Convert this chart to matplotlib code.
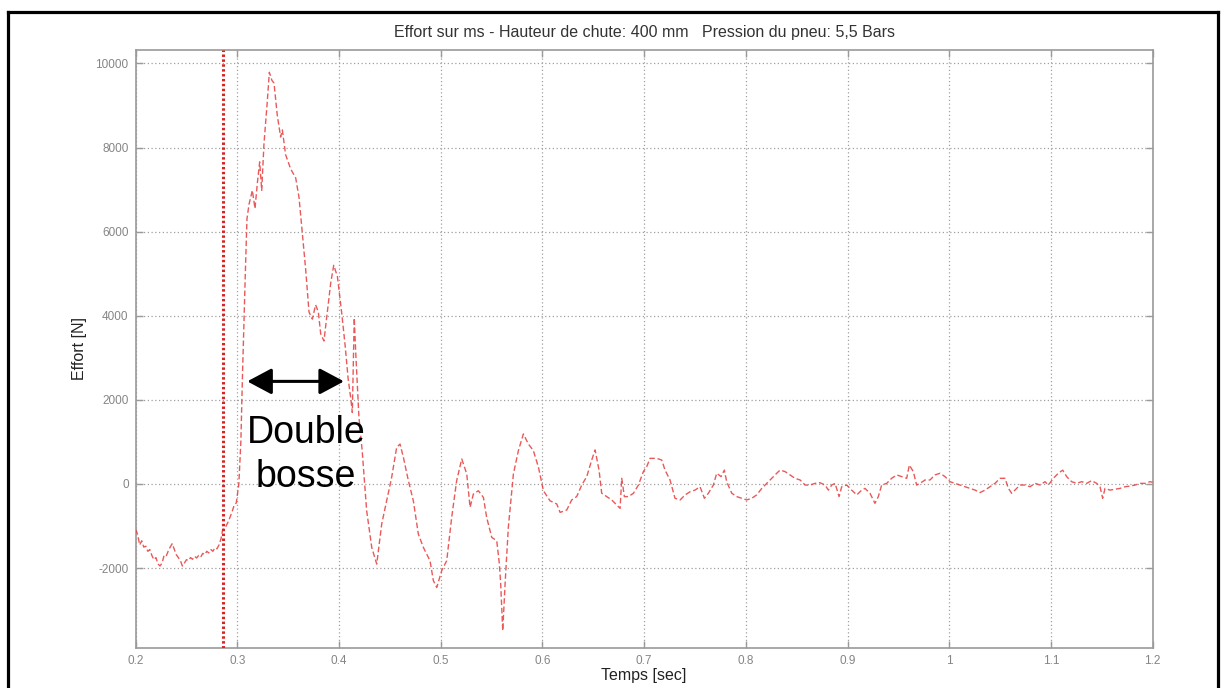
import matplotlib
matplotlib.use("Agg")
import matplotlib.pyplot as plt
from matplotlib.lines import Line2D

plt.rcParams['font.family'] = ['Liberation Sans', 'DejaVu Sans']

# ---- data ----
temps = [
    0.200, 0.202, 0.204, 0.206, 0.208, 0.210, 0.212, 0.214, 0.216, 0.218,
    0.220, 0.222, 0.224, 0.226, 0.228, 0.230, 0.232, 0.234, 0.236, 0.238,
    0.240, 0.242, 0.244, 0.246, 0.248, 0.250, 0.252, 0.254, 0.256, 0.258,
    0.260, 0.262, 0.264, 0.266, 0.268, 0.270, 0.272, 0.274, 0.276, 0.278,
    0.280, 0.282, 0.284, 0.2855, 0.287, 0.289, 0.291, 0.293, 0.295, 0.297,
    0.299, 0.3015, 0.3035, 0.3050, 0.3065, 0.3080, 0.3095, 0.3115, 0.3148, 0.3174,
    0.3197, 0.3220, 0.3240, 0.3262, 0.3295, 0.3315, 0.3340, 0.3361, 0.3393, 0.3426,
    0.3443, 0.3475, 0.3525, 0.3574, 0.3607, 0.3640, 0.3672, 0.3705, 0.3738, 0.3770,
    0.3797, 0.3820, 0.3852, 0.3885, 0.3918, 0.3948, 0.3984, 0.4025, 0.4060, 0.4090,
    0.4115, 0.4131, 0.4150, 0.4165, 0.4196, 0.4228, 0.4272, 0.4322, 0.4371, 0.4420,
    0.4469, 0.4518, 0.4567, 0.4600, 0.4633, 0.4682, 0.4731, 0.4780, 0.4830, 0.4895,
    0.4928, 0.4961, 0.5010, 0.5059, 0.5108, 0.5157, 0.5207, 0.5256, 0.5289, 0.5321,
    0.5370, 0.5420, 0.5452, 0.5502, 0.5551, 0.5577, 0.5590, 0.5610, 0.5633, 0.5665,
    0.5715, 0.5764, 0.5813, 0.5862, 0.5911, 0.5961, 0.6010, 0.6075, 0.6141, 0.6174,
    0.6239, 0.6288, 0.6337, 0.6387, 0.6436, 0.6485, 0.6518, 0.6534, 0.6557, 0.6583,
    0.6632, 0.6682, 0.6731, 0.6764, 0.6780, 0.6806, 0.6846, 0.6895, 0.6944, 0.6993,
    0.7026, 0.7059, 0.7124, 0.7173, 0.7206, 0.7255, 0.7304, 0.7354, 0.7403, 0.7452,
    0.7501, 0.7550, 0.7593, 0.7632, 0.7681, 0.7714, 0.7757, 0.7789, 0.7812, 0.7862,
    0.7911, 0.7960, 0.8009, 0.8058, 0.8107, 0.8157, 0.8206, 0.8255, 0.8304, 0.8337,
    0.8386, 0.8435, 0.8484, 0.8534, 0.8583, 0.8632, 0.8681, 0.8730, 0.8779, 0.8812,
    0.8845, 0.8878, 0.8917, 0.8943, 0.8992, 0.9041, 0.9091, 0.9140, 0.9172, 0.9221,
    0.9270, 0.9303, 0.9336, 0.9385, 0.9434, 0.9484, 0.9533, 0.9582, 0.9608, 0.9647,
    0.9680, 0.9713, 0.9762, 0.9811, 0.9860, 0.9910, 0.9959, 1.0008, 1.0057, 1.0106,
    1.0155, 1.0205, 1.0254, 1.0303, 1.0352, 1.0401, 1.0450, 1.0500, 1.0549, 1.0582,
    1.0614, 1.0647, 1.0696, 1.0745, 1.0795, 1.0844, 1.0893, 1.0942, 1.0975, 1.1024,
    1.1073, 1.1116, 1.1155, 1.1204, 1.1254, 1.1303, 1.1352, 1.1401, 1.1450, 1.1483,
    1.1509, 1.1532, 1.1581, 1.1630, 1.1679, 1.1729, 1.1778, 1.1827, 1.1876, 1.1925,
    1.1975, 1.2000,
]
effort = [
    -1080, -1200, -1450, -1350, -1500, -1480, -1600, -1560, -1700, -1800,
    -1750, -1900, -1950, -1880, -1700, -1720, -1600, -1500, -1420, -1550,
    -1680, -1750, -1820, -1950, -1880, -1800, -1820, -1750, -1790, -1720,
    -1760, -1700, -1740, -1650, -1680, -1600, -1640, -1560, -1600, -1520,
    -1540, -1450, -1300, -1100, -1050, -1000, -900, -780, -650, -500,
    -450, 0, 1000, 2500, 3800, 5100, 6300, 6650, 6980, 6550,
    7150, 7660, 6980, 8080, 9100, 9790, 9600, 9530, 8770, 8250,
    8420, 7830, 7490, 7280, 6810, 5960, 5110, 4090, 3920, 4260,
    4090, 3570, 3400, 4090, 4770, 5200, 4940, 4100, 3300, 2500,
    2050, 1700, 3950, 3100, 1590, 790, -635, -1510, -1905, -950,
    -400, 160, 870, 950, 635, 80, -400, -1190, -1510, -1825,
    -2300, -2460, -2060, -1825, -795, 80, 595, 240, -555, -240,
    -160, -320, -795, -1270, -1350, -1905, -2380, -3490, -2380, -1030,
    240, 795, 1190, 950, 795, 400, -160, -400, -475, -675,
    -620, -380, -300, -25, 175, 570, 810, 610, 330, -220,
    -300, -380, -500, -580, 135, -300, -300, -220, -25, 295,
    415, 610, 610, 570, 330, 95, -340, -380, -260, -185,
    -145, -65, -340, -220, -25, 255, 175, 330, 55, -220,
    -300, -340, -380, -340, -260, -105, 15, 135, 255, 330,
    295, 215, 135, 95, -25, -25, 15, 30, -25, -145,
    -25, 15, -300, -65, -25, -145, -260, -145, -105, -220,
    -460, -300, -25, 15, 135, 215, 175, 135, 450, 295,
    -25, 15, 95, 95, 215, 255, 175, 55, 15, -25,
    -65, -105, -145, -205, -145, -65, 15, 135, 135, -105,
    -220, -145, -25, -25, -65, 15, -25, 55, -25, 135,
    255, 330, 175, 55, 15, 55, 15, 80, 15, -65,
    -340, -105, -145, -125, -105, -65, -50, -25, 15, 15,
    55, 40,
]

xticks = [0.2, 0.3, 0.4, 0.5, 0.6, 0.7, 0.8, 0.9, 1.0, 1.1, 1.2]
xticklabels = ['0.2', '0.3', '0.4', '0.5', '0.6', '0.7', '0.8', '0.9', '1', '1.1', '1.2']
yticks = [-2000, 0, 2000, 4000, 6000, 8000, 10000]
yticklabels = ['-2000', '0', '2000', '4000', '6000', '8000', '10000']

impact_t = 0.2856
arrow_t = (0.3098, 0.4049)
arrow_v = 2440

title = "Effort sur ms - Hauteur de chute: 400 mm   Pression du pneu: 5,5 Bars"

# ---- figure ----
W, H = 1225, 688
fig = plt.figure(figsize=(W / 100, H / 100), dpi=100)
fig.patch.set_facecolor('white')

ax_l, ax_r, ax_t, ax_b = 135.6, 1152.6, 50, 648
ax = fig.add_axes([ax_l / W, 1 - ax_b / H, (ax_r - ax_l) / W, (ax_b - ax_t) / H])

ax.plot(temps, effort, color='#e63c3c', lw=1.0, linestyle=(0, (4, 2)), alpha=0.85, zorder=3)
ax.axvline(impact_t, color='#d42525', lw=2.2, linestyle=(0, (0.8, 0.8)), zorder=4)

ax.set_xlim(0.2, 1.2)
ax.set_ylim(-3900, 10320)
ax.set_xticks(xticks)
ax.set_xticklabels(xticklabels)
ax.set_yticks(yticks)
ax.set_yticklabels(yticklabels)

ax.grid(True, color='#a0a0a0', linestyle=(0, (1, 2)), lw=0.9)
for s in ax.spines.values():
    s.set_color('#9a9a9a')
    s.set_linewidth(1.2)
ax.tick_params(direction='in', length=5, width=1, colors='#9a9a9a',
               labelcolor='#858585', labelsize=8.5, top=True, right=True, pad=5)

ax.set_title(title, fontsize=11.5, color='#333333', pad=9)
ax.set_xlabel('Temps [sec]', fontsize=11.5, color='#222222', labelpad=1)
ax.set_ylabel('Effort [N]', fontsize=11.5, color='#222222', labelpad=6)

ax.annotate('', xy=(arrow_t[1], arrow_v), xytext=(arrow_t[0], arrow_v),
            arrowprops=dict(arrowstyle='<|-|>,head_length=0.75,head_width=0.4',
                            lw=2.2, color='black', shrinkA=0, shrinkB=0,
                            mutation_scale=20), zorder=5)
ax.text(0.3675, 970, 'Double', ha='center', va='baseline', fontsize=27, color='black', zorder=5)
ax.text(0.3675, -65, 'bosse', ha='center', va='baseline', fontsize=27, color='black', zorder=5)

# outer black frame
def fx(px):
    return px / W

def fy(py):
    return 1 - py / H

fig.add_artist(Line2D([fx(7.5), fx(7.5)], [fy(11.5), fy(700)], color='black', lw=2.3, transform=fig.transFigure))
fig.add_artist(Line2D([fx(7.5), fx(1217.5)], [fy(11.5), fy(11.5)], color='black', lw=2.3, transform=fig.transFigure))
fig.add_artist(Line2D([fx(1217.5), fx(1217.5)], [fy(11.5), fy(700)], color='black', lw=2.3, transform=fig.transFigure))

fig.savefig('out.png', dpi=100)
